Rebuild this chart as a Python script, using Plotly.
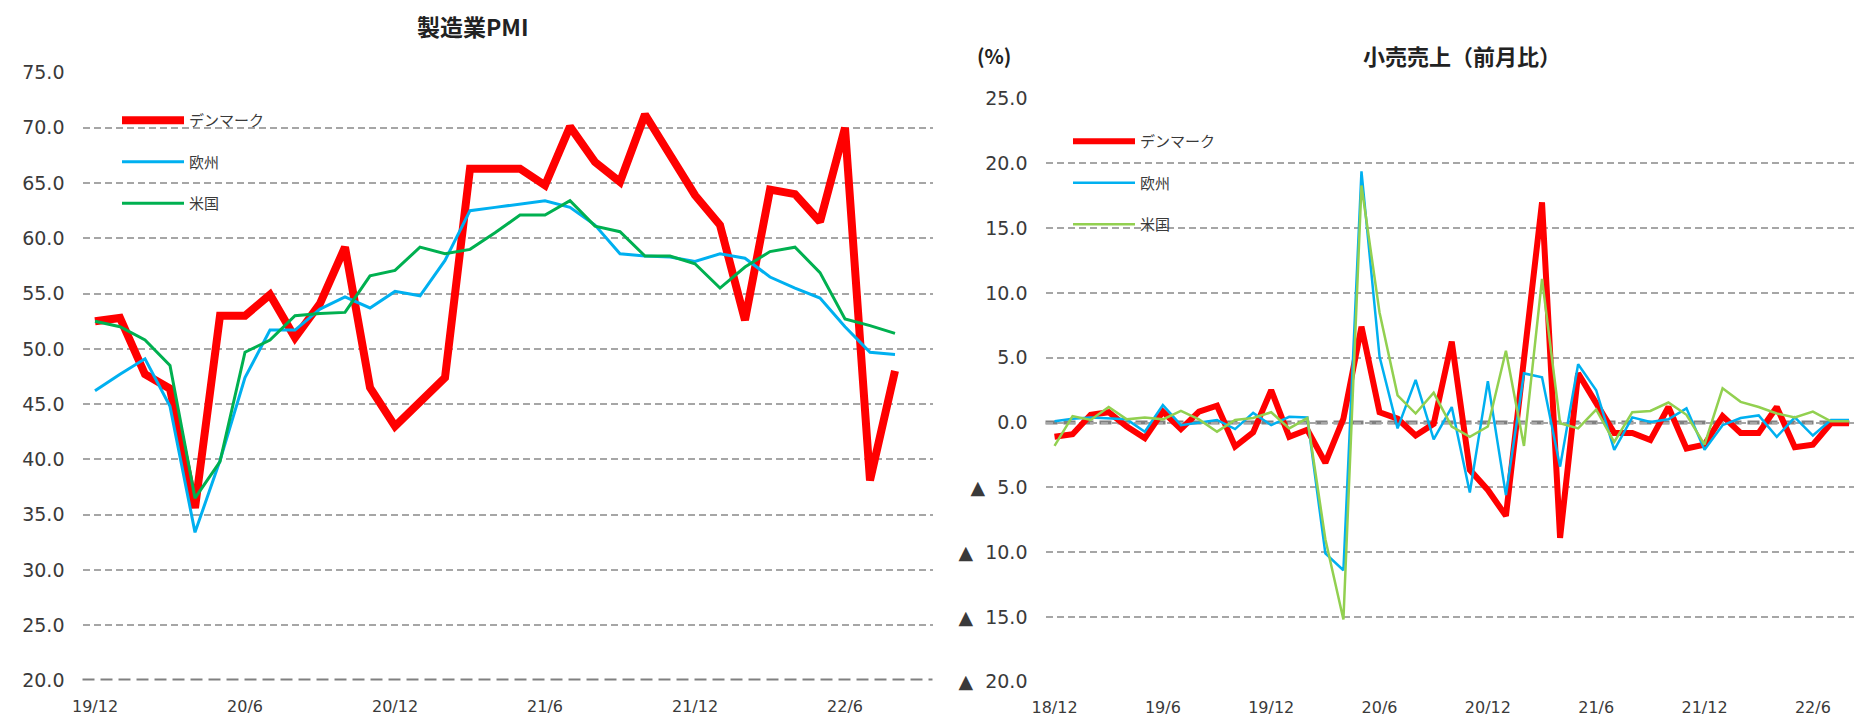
import plotly.graph_objects as go

# ---------------- data ----------------
pmi_months = ["19/12", "20/1", "20/2", "20/3", "20/4", "20/5", "20/6", "20/7", "20/8", "20/9", "20/10", "20/11",
              "20/12", "21/1", "21/2", "21/3", "21/4", "21/5", "21/6", "21/7", "21/8", "21/9", "21/10", "21/11",
              "21/12", "22/1", "22/2", "22/3", "22/4", "22/5", "22/6", "22/7", "22/8"]
pmi_denmark = [52.5, 52.8, 47.7, 46.4, 35.6, 53.0, 53.0, 54.9, 51.0, 54.1, 59.2, 46.5,
               43.0, 45.3, 47.4, 66.3, 66.3, 66.3, 64.8, 70.1, 66.9, 65.1, 71.2, 67.6,
               63.9, 61.2, 52.6, 64.4, 64.0, 61.5, 70.0, 38.1, 48.0]
pmi_europe = [46.2, 47.7, 49.1, 44.8, 33.4, 39.9, 47.4, 51.7, 51.7, 53.6, 54.7, 53.7,
              55.2, 54.8, 58.0, 62.5, 62.8, 63.1, 63.4, 62.8, 61.2, 58.6, 58.4, 58.3,
              57.9, 58.6, 58.2, 56.5, 55.5, 54.6, 52.0, 49.7, 49.5]
pmi_us = [52.5, 52.0, 50.8, 48.5, 36.5, 39.8, 49.7, 50.8, 53.0, 53.2, 53.3, 56.6,
          57.1, 59.2, 58.6, 59.0, 60.5, 62.1, 62.1, 63.4, 61.1, 60.6, 58.4, 58.4,
          57.7, 55.5, 57.4, 58.8, 59.2, 56.9, 52.7, 52.1, 51.4]
pmi_ticks = ["19/12", "20/6", "20/12", "21/6", "21/12", "22/6"]
pmi_yticks = [20, 25, 30, 35, 40, 45, 50, 55, 60, 65, 70, 75]

retail_months = ["18/12", "19/1", "19/2", "19/3", "19/4", "19/5", "19/6", "19/7", "19/8", "19/9", "19/10", "19/11",
                 "19/12", "20/1", "20/2", "20/3", "20/4", "20/5", "20/6", "20/7", "20/8", "20/9", "20/10", "20/11",
                 "20/12", "21/1", "21/2", "21/3", "21/4", "21/5", "21/6", "21/7", "21/8", "21/9", "21/10", "21/11",
                 "21/12", "22/1", "22/2", "22/3", "22/4", "22/5", "22/6", "22/7", "22/8"]
retail_denmark = [-1.1, -0.9, 0.6, 0.8, -0.3, -1.2, 0.85, -0.5, 0.85, 1.3, -1.85, -0.75,
                  2.5, -1.1, -0.55, -3.1, 0.3, 7.4, 0.8, 0.3, -1.0, -0.1, 6.25, -3.65,
                  -5.2, -7.2, 4.9, 17.0, -8.9, 3.8, 1.5, -0.8, -0.8, -1.35, 1.2, -2.0,
                  -1.7, 0.5, -0.8, -0.8, 1.2, -1.9, -1.7, -0.05, -0.05]
retail_europe = [0.1, 0.3, 0.4, 0.3, 0.25, -0.7, 1.35, -0.2, 0.0, 0.2, -0.5, 0.75,
                 -0.2, 0.45, 0.4, -10.1, -11.4, 19.4, 5.1, -0.45, 3.3, -1.3, 1.2, -5.4,
                 3.2, -5.6, 3.8, 3.5, -3.4, 4.5, 2.5, -2.1, 0.4, 0.05, 0.25, 1.1,
                 -2.1, -0.2, 0.35, 0.55, -1.1, 0.4, -1.0, 0.2, 0.2]
retail_us = [-1.8, 0.5, 0.2, 1.2, 0.25, 0.4, 0.25, 0.9, 0.25, -0.7, 0.2, 0.35,
             0.8, -0.45, 0.35, -9.0, -15.2, 18.3, 8.5, 2.1, 0.7, 2.3, -0.3, -1.1,
             -0.3, 5.55, -1.8, 11.1, -0.05, -0.45, 1.0, -1.5, 0.8, 0.9, 1.55, 0.6,
             -1.7, 2.65, 1.6, 1.2, 0.7, 0.4, 0.85, 0.1, 0.1]
retail_ticks = ["18/12", "19/6", "19/12", "20/6", "20/12", "21/6", "21/12", "22/6"]
retail_yticks = [25, 20, 15, 10, 5, 0, -5, -10, -15, -20]
retail_yticktext = ["25.0", "20.0", "15.0", "10.0", "5.0", "0.0",
                    "▲\u00a0\u00a05.0", "▲\u00a0\u00a010.0", "▲\u00a0\u00a015.0", "▲\u00a0\u00a020.0"]

series_names = ["デンマーク", "欧州", "米国"]

# ---------------- figure ----------------
PAGE_W, PAGE_H = 1862, 717
OFF = 8  # page body margin
W, H = PAGE_W - OFF, PAGE_H - OFF
RED, BLUE, GREEN_L, GREEN_R = "#FF0000", "#00B0F0", "#00B050", "#92D050"
GRID = "#A6A6A6"
TICKFONT = dict(family="DejaVu Sans, Noto Sans CJK JP", size=19, color="#3A3A3A")
XTICKFONT = dict(family="DejaVu Sans, Noto Sans CJK JP", size=16, color="#3A3A3A")
CJK = "Noto Sans CJK JP"

fig = go.Figure()

left = [(pmi_denmark, RED, 8), (pmi_europe, BLUE, 3), (pmi_us, GREEN_L, 3)]
for k, (vals, col, w) in enumerate(left):
    fig.add_trace(go.Scatter(x=pmi_months, y=vals, name=series_names[k], mode="lines",
                             line=dict(color=col, width=w), xaxis="x", yaxis="y",
                             legend="legend", legendgroup="L%d" % k))

right = [(retail_denmark, RED, 6), (retail_europe, BLUE, 2.5), (retail_us, GREEN_R, 2.5)]
for k, (vals, col, w) in enumerate(right):
    fig.add_trace(go.Scatter(x=retail_months, y=vals, name=series_names[k], mode="lines",
                             line=dict(color=col, width=w), xaxis="x2", yaxis="y2",
                             legend="legend2", legendgroup="R%d" % k))


def px_x(p):
    return min(1.0, (p - OFF) / W)


def px_y(p):
    return 1 - (p - OFF) / H


fig.update_layout(
    width=W, height=H,
    margin=dict(l=0, r=0, t=0, b=0),
    paper_bgcolor="white", plot_bgcolor="white",
    xaxis=dict(domain=[px_x(82.5), px_x(932.5)], type="category", range=[-0.5, 33.5],
               tickmode="array", tickvals=pmi_ticks, ticktext=pmi_ticks,
               showgrid=False, zeroline=False, showline=False, ticks="",
               tickfont=XTICKFONT, ticklabelstandoff=14, automargin=False),
    yaxis=dict(domain=[px_y(680.5), px_y(72.5)], range=[20, 75],
               tickmode="array", tickvals=pmi_yticks, tickformat=".1f",
               showgrid=True, gridcolor=GRID, gridwidth=1.5, griddash="7px,4px",
               zeroline=False, showline=False, ticks="",
               tickfont=TICKFONT, ticklabelstandoff=17, automargin=False),
    xaxis2=dict(domain=[px_x(1045.5), px_x(1858)], type="category", range=[-0.5, 44.5],
                tickmode="array", tickvals=retail_ticks, ticktext=retail_ticks,
                showgrid=False, zeroline=False, showline=False, ticks="",
                tickfont=XTICKFONT, ticklabelstandoff=14, automargin=False, anchor="y2"),
    yaxis2=dict(domain=[px_y(681.7), px_y(98.7)], range=[-20, 25],
                tickmode="array", tickvals=retail_yticks, ticktext=retail_yticktext,
                showgrid=True, gridcolor=GRID, gridwidth=1.5, griddash="7px,4px",
                zeroline=False, showline=False, ticks="",
                tickfont=TICKFONT, ticklabelstandoff=17, automargin=False, anchor="x2"),
    legend=dict(x=px_x(117), y=px_y(104), xanchor="left", yanchor="top",
                font=dict(family=CJK, size=15, color="#3A3A3A"), itemwidth=62,
                bgcolor="rgba(0,0,0,0)", tracegroupgap=19, traceorder="grouped"),
    legend2=dict(x=px_x(1068), y=px_y(125), xanchor="left", yanchor="top",
                 font=dict(family=CJK, size=15, color="#3A3A3A"), itemwidth=62,
                 bgcolor="rgba(0,0,0,0)", tracegroupgap=19, traceorder="grouped"),
    showlegend=True,
)

# baseline lines (axis minimum on the left chart, zero on the right chart)
fig.add_shape(type="line", xref="x domain", yref="y", x0=0, x1=1, y0=pmi_yticks[0], y1=pmi_yticks[0],
              line=dict(color="#808080", width=4, dash="12px,6px"), layer="below")
fig.add_shape(type="line", xref="x2 domain", yref="y2", x0=0, x1=1, y0=0, y1=0,
              line=dict(color="#808080", width=4, dash="12px,6px"), layer="below")

# titles
fig.add_annotation(text="<b>製造業PMI</b>", xref="paper", yref="paper", x=px_x(473), y=px_y(26),
                   showarrow=False, xanchor="center", yanchor="middle",
                   font=dict(family=CJK, size=23, color="#222222"))
fig.add_annotation(text="<b>小売売上（前月比）</b>", xref="paper", yref="paper", x=px_x(1462), y=px_y(55),
                   showarrow=False, xanchor="center", yanchor="middle",
                   font=dict(family=CJK, size=22, color="#222222"))
fig.add_annotation(text="<b>(%)</b>", xref="paper", yref="paper", x=px_x(994), y=px_y(55),
                   showarrow=False, xanchor="center", yanchor="middle",
                   font=dict(family=CJK, size=20, color="#222222"))

fig.write_html("out.html")
